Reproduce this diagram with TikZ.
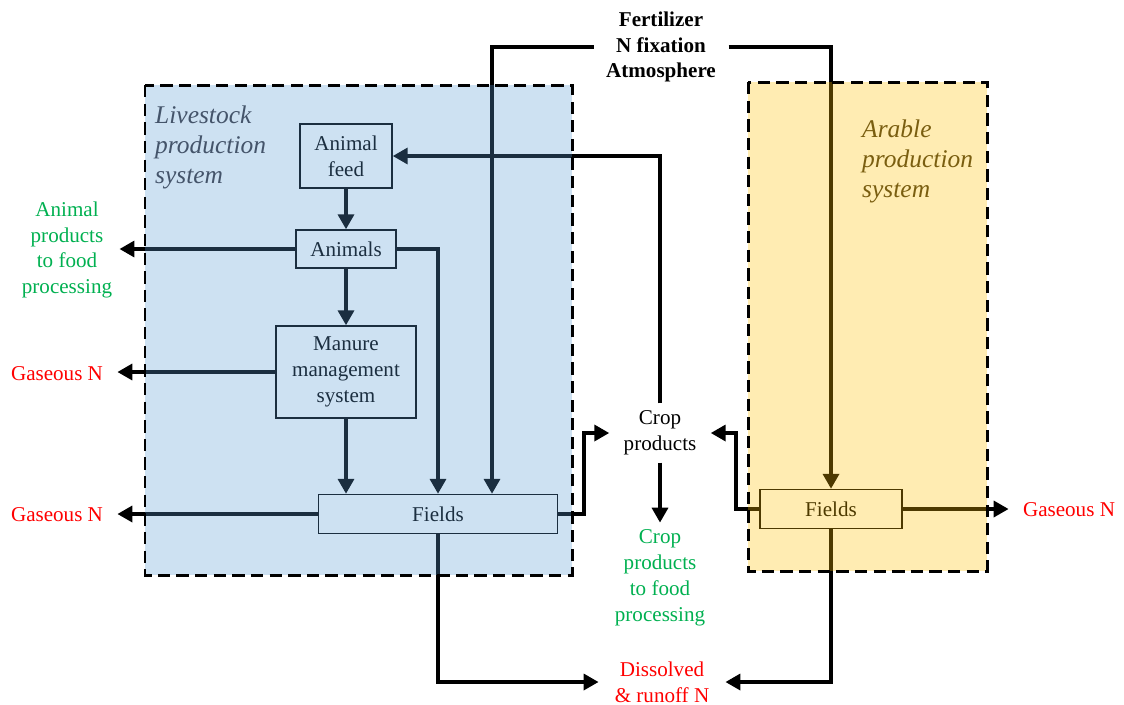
\documentclass[tikz,border=0pt]{standalone}
\usepackage{fontspec}
\setmainfont{Liberation Serif}
\usetikzlibrary{arrows.meta}

\definecolor{lvblue}{RGB}{91,155,213}
\definecolor{argold}{RGB}{255,192,0}
\definecolor{lvtext}{RGB}{68,84,106}
\definecolor{artext}{RGB}{122,94,16}
\definecolor{outgreen}{RGB}{0,176,80}
\definecolor{outred}{RGB}{255,0,0}

\tikzset{
  flowbox/.style={draw=black, line width=0.8pt, align=center, inner sep=2pt},
  flowlabel/.style={align=center, inner xsep=8pt, inner ysep=4pt},
  flow/.style={line width=2.4pt, -{Triangle[length=8.5pt,width=9pt]}},
  sysframe/.style={draw=black, line width=1.7pt, dash pattern=on 7pt off 3.6pt},
  syslabel/.style={anchor=north west, align=left, font=\fontsize{14.5}{17}\selectfont\itshape}
}

\begin{document}
\begin{tikzpicture}[x=0.02cm, y=-0.02cm, font=\fontsize{12}{14.7}\selectfont]
\useasboundingbox (0,0) rectangle (1124,704);

% nodes
\node[font=\fontsize{12}{14.7}\selectfont\bfseries, align=center, inner xsep=7pt] (fert) at (661,47) {Fertilizer\\N fixation\\Atmosphere};
\node[flowbox, minimum width=1.84cm, minimum height=1.28cm] (feed) at (346,156) {Animal\\feed};
\node[flowbox, minimum width=2cm, minimum height=0.76cm] (animals) at (346,249) {Animals};
\node[flowbox, minimum width=2.8cm, minimum height=1.84cm] (manure) at (346,372) {Manure\\management\\system};
\node[flowbox, minimum width=4.78cm, minimum height=0.78cm] (lfields) at (438,514) {Fields};
\node[flowbox, minimum width=2.84cm, minimum height=0.78cm] (afields) at (831,509) {Fields};
\node[flowlabel] (crop) at (660,433) {Crop\\products};
\node[flowlabel, text=outgreen] (cfood) at (660,578) {Crop\\products\\to food\\processing};
\node[flowlabel, text=outgreen, inner xsep=4pt] (afood) at (67,250) {Animal\\products\\to food\\processing};
\node[flowlabel, text=outred] (gasman) at (57,374) {Gaseous N};
\node[flowlabel, text=outred] (gaslf) at (57,515) {Gaseous N};
\node[flowlabel, text=outred] (gasaf) at (1069,510) {Gaseous N};
\node[flowlabel, text=outred, inner xsep=9pt] (diss) at (662,682) {Dissolved\\\& runoff N};
\coordinate (fertin) at (492,45);

% connectors
\draw[flow] (fert.west) -| (fertin |- lfields.north);
\draw[flow] (fert.east) -| (afields.north);
\draw[flow] (crop.north) |- (feed.east);
\draw[flow] (feed.south) -- (animals.north);
\draw[flow] (animals.south) -- (manure.north);
\draw[flow] (animals.west) -- (animals.west -| afood.east);
\draw[flow] (animals.east) -| (lfields.north);
\draw[flow] (manure.west) -- (manure.west -| gasman.east);
\draw[flow] (manure.south) -- (manure.south |- lfields.north);
\draw[flow] (lfields.west) -- (lfields.west -| gaslf.east);
\draw[flow] (lfields.east) -- ++(26,0) |- (crop.west);
\draw[flow] (lfields.south) |- (diss.west);
\draw[flow] (crop.south) -- (cfood.north);
\draw[flow] (afields.west) -- ++(-23,0) |- (crop.east);
\draw[flow] (afields.east) -- (afields.east -| gasaf.west);
\draw[flow] (afields.south) |- (diss.east);

% system boxes
\fill[lvblue, opacity=0.3] (145,85) rectangle (572,575);
\fill[argold, opacity=0.3] (748,82) rectangle (987,571);
\draw[sysframe] (145,85) rectangle (572,575);
\draw[sysframe] (748,82) rectangle (987,571);
\node[syslabel, text=lvtext] (lvlabel) at (149,100) {Livestock\\production\\system};
\node[syslabel, text=artext] (arlabel) at (856,114) {Arable\\production\\system};
\end{tikzpicture}
\end{document}
